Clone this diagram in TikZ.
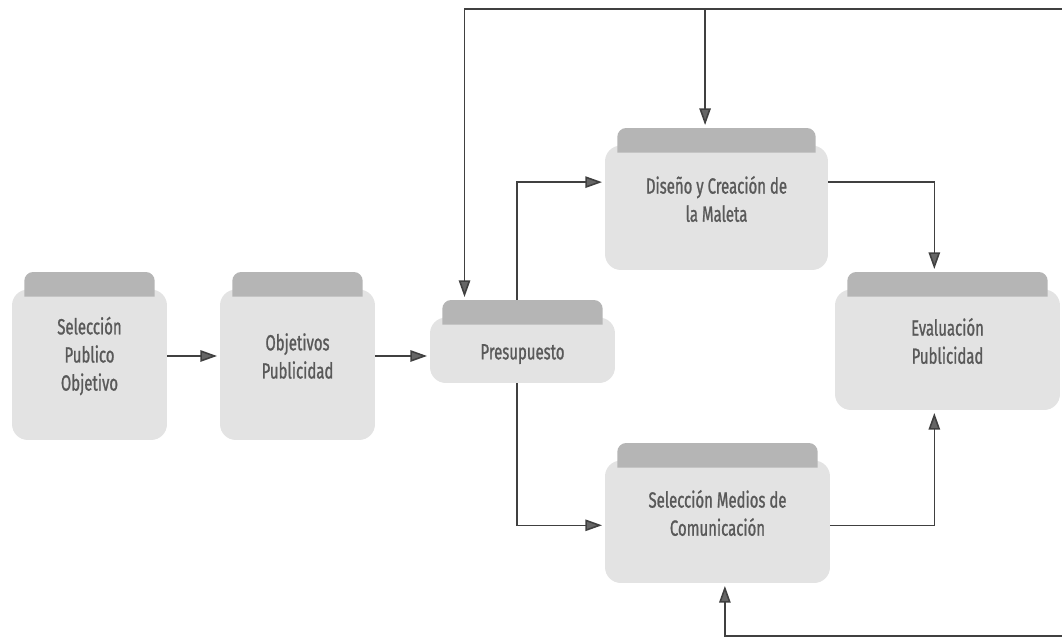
\documentclass[tikz,border=0pt]{standalone}
\usepackage{fontspec}
\setmainfont{Fira Sans}[FakeStretch=0.68, FakeBold=1]
\usepackage{xcolor}
\usetikzlibrary{arrows.meta}

\begin{document}
\begin{tikzpicture}[x=0.02cm, y=-0.02cm,
    caja/.style={rectangle, inner sep=2pt, align=center, text=black!65,
        font=\fontsize{12.5}{16}\selectfont,
        path picture={
            \fill[gray!22, rounded corners=9pt] ([yshift=-10pt]path picture bounding box.north west) rectangle (path picture bounding box.south east);
            \fill[gray!58] ([xshift=7pt, yshift=-14pt]path picture bounding box.north west) [rounded corners=5pt] -- ([xshift=7pt]path picture bounding box.north west) -- ([xshift=-7pt]path picture bounding box.north east) [sharp corners] -- ([xshift=-7pt, yshift=-14pt]path picture bounding box.north east) -- cycle;
        }},
    flecha/.style={draw=black!75, line width=0.9pt, shorten >=1.5pt,
        -{Triangle[length=9.5pt, width=6.5pt, fill=black!60]}}
    ]
    \useasboundingbox (0,0) rectangle (1062,638);

    \node[caja, minimum width=3.1cm, minimum height=3.36cm] (sel) at (89.5,356) {Selección\\Publico\\Objetivo};
    \node[caja, minimum width=3.1cm, minimum height=3.36cm] (obj) at (297.5,356) {Objetivos\\Publicidad};
    \node[caja, minimum width=3.7cm, minimum height=1.66cm, text height=23pt] (pre) at (522.5,341.5) {Presupuesto};
    \node[caja, minimum width=4.46cm, minimum height=2.84cm] (dis) at (716.5,199) {Diseño y Creación de\\la Maleta};
    \node[caja, minimum width=4.5cm, minimum height=2.76cm] (eva) at (947.5,341) {Evaluación\\Publicidad};
    \node[caja, minimum width=4.5cm, minimum height=2.8cm] (med) at (717.5,513) {Selección Medios de\\Comunicación};

    \coordinate (arribaD) at (1062,9);
    \coordinate (abajoD) at (1062,636);

    \draw[flecha] (sel) -- (obj);
    \draw[flecha] (obj.east) -- (obj.east -| pre.west);
    \draw[flecha] ([xshift=-3pt]pre.north) |- ([yshift=9.6pt]dis.west);
    \draw[flecha] ([xshift=-3pt]pre.south) |- ([yshift=-7pt]med.west);
    \draw[flecha] ([yshift=9.6pt]dis.east) -| ([xshift=-7.5pt]eva.north);
    \draw[flecha] ([yshift=-7pt]med.east) -| ([xshift=-7.5pt]eva.south);
    \draw[flecha] (arribaD) -| ([xshift=-33pt]pre.north);
    \draw[flecha] ([xshift=-6.5pt]dis.north |- arribaD) -- ([xshift=-6.5pt]dis.north);
    \draw[flecha] (abajoD) -| ([xshift=4.2pt]med.south);
\end{tikzpicture}
\end{document}
